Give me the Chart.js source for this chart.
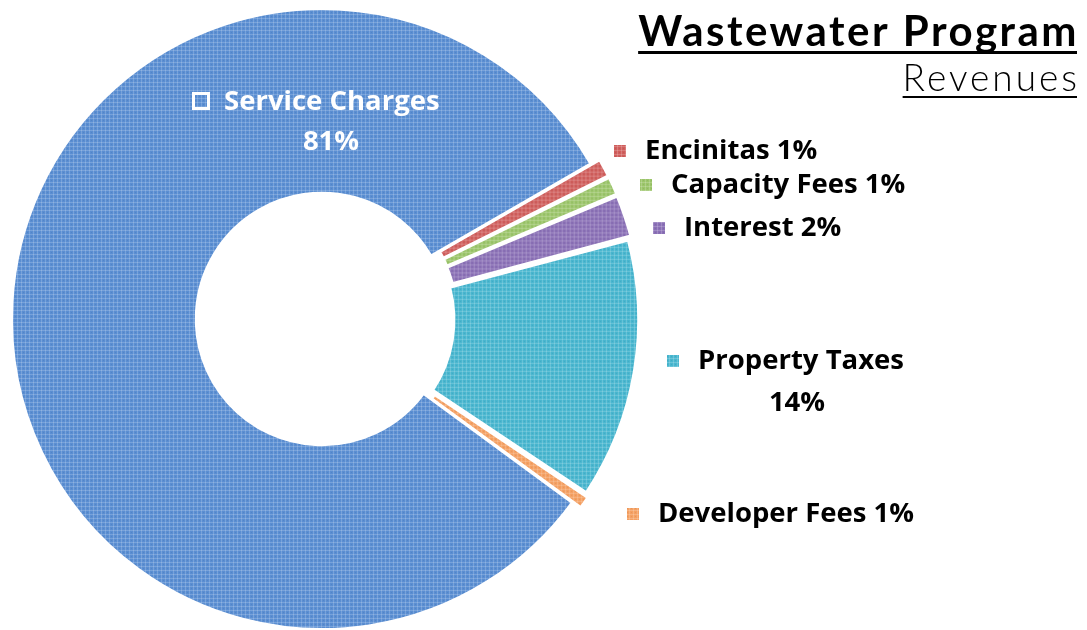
<!DOCTYPE html>
<html>
<head>
<meta charset="utf-8">
<script src="https://cdn.jsdelivr.net/npm/chart.js@4.4.1/dist/chart.umd.min.js"></script>
<style>
    html, body { margin: 0; padding: 0; background: #ffffff; overflow: hidden; }
    #wrap { position: absolute; left: 0; top: -3px; width: 1087px; height: 644px; }
</style>
</head>
<body>
<div id="wrap"><canvas id="revenue-chart"></canvas></div>
<script>
// Slice order runs clockwise starting at upper right
const CATEGORIES = ['Encinitas', 'Capacity Fees', 'Interest', 'Property Taxes', 'Developer Fees', 'Service Charges'];
const SHARE_VALUES = [1.0, 1.0, 2.2, 13.5, 0.7, 81.6];
const SHARE_LABELS = ['1%', '1%', '2%', '14%', '1%', '81%'];

const SLICE_COLORS = [
    '#d05e5c', // red
    '#9bc56a', // green
    '#8a70b6', // purple
    '#48b6cf', // cyan
    '#f5a062', // orange
    '#5a8ed2'  // blue
];

const TITLE = 'Wastewater Program';
const SUBTITLE = 'Revenues';

// where each label sits on the page (x of marker, y of text middle), canvas is 3px higher than page
const LABEL_SPOTS = [
    { x: 614, y: 154 },
    { x: 640, y: 188 },
    { x: 653, y: 231 },
    { x: 667, y: 364, second: { x: 797, y: 406 } },
    { x: 627, y: 517 },
    { x: 192, y: 105, second: { x: 331, y: 145 }, inside: true }
];

function makeTexture(color) {
    const tile = document.createElement('canvas');
    tile.width = 4;
    tile.height = 4;
    const c = tile.getContext('2d');
    c.fillStyle = color;
    c.fillRect(0, 0, 4, 4);
    c.fillStyle = 'rgba(255,255,255,0.18)';
    c.fillRect(0, 1, 4, 1);
    c.fillRect(1, 0, 1, 4);
    c.fillStyle = 'rgba(0,0,0,0.06)';
    c.fillRect(3, 3, 1, 1);
    return c.createPattern(tile, 'repeat');
}

const labelPlugin = {
    id: 'revenueLabels',
    afterDraw(chart) {
        const ctx = chart.ctx;
        ctx.save();
        ctx.textBaseline = 'middle';

        CATEGORIES.forEach((name, i) => {
            const spot = LABEL_SPOTS[i];
            const inside = !!spot.inside;
            ctx.font = 'bold 27.5px "Open Sans"';

            // little square marker
            if (inside) {
                ctx.strokeStyle = '#ffffff';
                ctx.lineWidth = 3;
                ctx.strokeRect(spot.x + 1.5, spot.y - 8.5, 15, 15);
            } else {
                ctx.fillStyle = makeTexture(SLICE_COLORS[i]);
                ctx.fillRect(spot.x, spot.y - 6, 12, 12);
            }

            ctx.fillStyle = inside ? '#ffffff' : '#000000';
            ctx.textAlign = 'left';
            const textX = spot.x + (inside ? 32 : 31);
            if (spot.second) {
                ctx.fillText(name, textX, spot.y);
                ctx.textAlign = 'center';
                ctx.fillText(SHARE_LABELS[i], spot.second.x, spot.second.y);
            } else {
                ctx.fillText(name + ' ' + SHARE_LABELS[i], textX, spot.y);
            }
        });

        // title block, right aligned with underlines
        ctx.fillStyle = '#000000';
        ctx.textAlign = 'right';
        ctx.textBaseline = 'alphabetic';
        ctx.font = 'bold 42px Lato';
        ctx.letterSpacing = '2.5px';
        ctx.fillText(TITLE, 1079, 49);
        const w1 = ctx.measureText(TITLE).width;
        ctx.fillRect(1077 - w1 + 2, 54, w1 - 2, 3);

        ctx.font = '300 37px Lato';
        ctx.letterSpacing = '3px';
        ctx.fillText(SUBTITLE, 1080, 94);
        const w2 = ctx.measureText(SUBTITLE).width;
        ctx.fillRect(1077 - w2 + 3, 99, w2 - 3, 2);

        ctx.restore();
    }
};

const ctx = document.getElementById('revenue-chart').getContext('2d');

new Chart(ctx, {
    type: 'doughnut',
    data: {
        labels: CATEGORIES,
        datasets: [{
            data: SHARE_VALUES,
            backgroundColor: SLICE_COLORS.map(makeTexture),
            borderColor: '#ffffff',
            borderWidth: 3,
            offset: [20, 20, 20, 20, 20, 0]
        }]
    },
    options: {
        responsive: true,
        maintainAspectRatio: false,
        animation: false,
        events: [],
        rotation: 60,
        cutout: '40.5%',
        layout: {
            padding: { left: 0, right: 443, top: 0, bottom: 0 }
        },
        plugins: {
            legend: { display: false },
            tooltip: { enabled: false },
            title: { display: false }
        }
    },
    plugins: [labelPlugin]
});
</script>
</body>
</html>
